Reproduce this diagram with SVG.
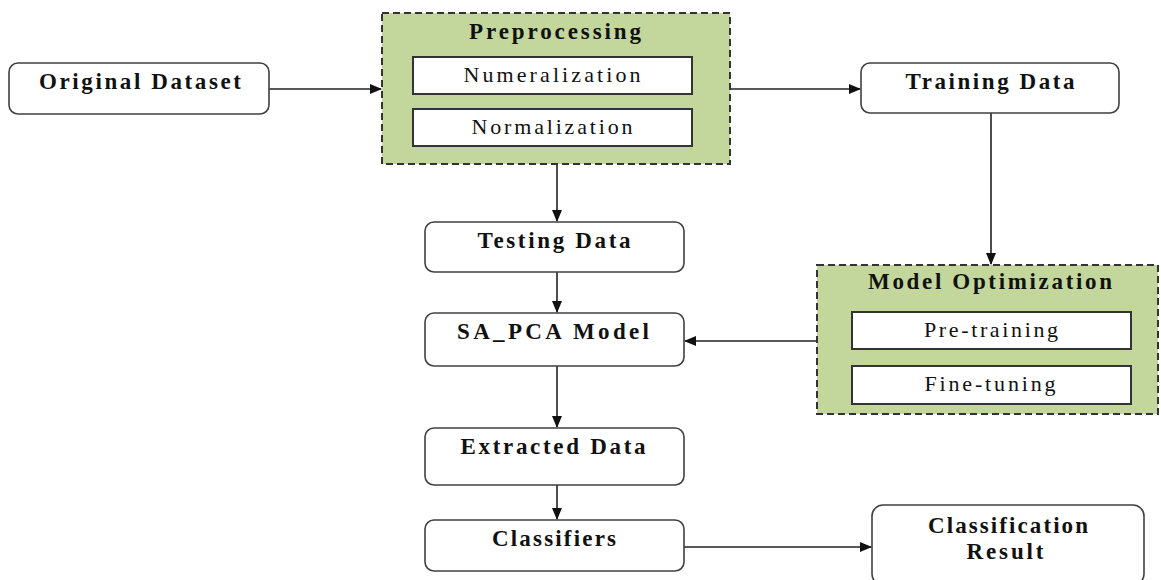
<svg xmlns="http://www.w3.org/2000/svg" width="1161" height="580" viewBox="0 0 1161 580">
<style>
.node{fill:#fff;stroke:#404040;stroke-width:1.6}
.group{fill:#c3d69b;stroke:#333;stroke-width:2;stroke-dasharray:7,4}
.inner{fill:#fff;stroke:#333;stroke-width:2}
.b{font-family:"Liberation Serif",serif;font-weight:bold;font-size:23px;fill:#111;text-anchor:middle}
.n{font-family:"Liberation Serif",serif;font-size:22px;fill:#111;text-anchor:middle}
.c{fill:none;stroke:#222;stroke-width:1.6}
</style>
<defs>
<marker id="ah" markerWidth="12" markerHeight="10" refX="11" refY="5" orient="auto" markerUnits="userSpaceOnUse">
<path d="M0,0 L12,5 L0,10 Z" fill="#111"/>
</marker>
</defs>
<rect width="1161" height="580" fill="#fff"/>
<g id="connectors">
<line class="c" x1="269" y1="89" x2="381" y2="89" marker-end="url(#ah)"/>
<line class="c" x1="730" y1="89" x2="860" y2="89" marker-end="url(#ah)"/>
<line class="c" x1="991" y1="113" x2="991" y2="264" marker-end="url(#ah)"/>
<line class="c" x1="557" y1="164" x2="557" y2="221" marker-end="url(#ah)"/>
<line class="c" x1="557" y1="272" x2="557" y2="312" marker-end="url(#ah)"/>
<line class="c" x1="817" y1="341" x2="685" y2="341" marker-end="url(#ah)"/>
<line class="c" x1="557" y1="366" x2="557" y2="427" marker-end="url(#ah)"/>
<line class="c" x1="557" y1="485" x2="557" y2="519" marker-end="url(#ah)"/>
<line class="c" x1="684" y1="547" x2="871" y2="547" marker-end="url(#ah)"/>
</g>
<g id="original-dataset">
<rect class="node" x="9" y="63" width="260" height="51" rx="9"/>
<text class="b" x="140" y="89" textLength="202" lengthAdjust="spacing">Original Dataset</text>
</g>
<g id="preprocessing">
<rect class="group" x="382" y="13" width="348" height="151"/>
<text class="b" x="555" y="39" textLength="172" lengthAdjust="spacing">Preprocessing</text>
<rect class="inner" x="413" y="57" width="279" height="37"/>
<text class="n" x="552" y="82" textLength="177" lengthAdjust="spacing">Numeralization</text>
<rect class="inner" x="413" y="109" width="279" height="37"/>
<text class="n" x="552" y="134" textLength="161" lengthAdjust="spacing">Normalization</text>
</g>
<g id="training-data">
<rect class="node" x="861" y="63" width="258" height="50" rx="9"/>
<text class="b" x="990" y="89" textLength="169" lengthAdjust="spacing">Training Data</text>
</g>
<g id="testing-data">
<rect class="node" x="425" y="222" width="259" height="50" rx="9"/>
<text class="b" x="554" y="248" textLength="153" lengthAdjust="spacing">Testing Data</text>
</g>
<g id="sa-pca-model">
<rect class="node" x="425" y="313" width="259" height="53" rx="9"/>
<text class="b" x="553" y="339" textLength="192" lengthAdjust="spacing">SA_PCA Model</text>
</g>
<g id="model-optimization">
<rect class="group" x="817" y="265" width="341" height="149"/>
<text class="b" x="990" y="289" textLength="244" lengthAdjust="spacing">Model Optimization</text>
<rect class="inner" x="852" y="312" width="279" height="37"/>
<text class="n" x="991" y="337" textLength="134" lengthAdjust="spacing">Pre-training</text>
<rect class="inner" x="852" y="366" width="279" height="38"/>
<text class="n" x="990" y="391" textLength="131" lengthAdjust="spacing">Fine-tuning</text>
</g>
<g id="extracted-data">
<rect class="node" x="425" y="428" width="259" height="57" rx="9"/>
<text class="b" x="553" y="454" textLength="185" lengthAdjust="spacing">Extracted Data</text>
</g>
<g id="classifiers">
<rect class="node" x="425" y="520" width="259" height="51" rx="9"/>
<text class="b" x="554" y="546" textLength="124" lengthAdjust="spacing">Classifiers</text>
</g>
<g id="classification-result">
<rect class="node" x="872" y="505" width="272" height="80" rx="11"/>
<text class="b" x="1008" y="533" textLength="160" lengthAdjust="spacing">Classification</text>
<text class="b" x="1005" y="559" textLength="77" lengthAdjust="spacing">Result</text>
</g>
</svg>
